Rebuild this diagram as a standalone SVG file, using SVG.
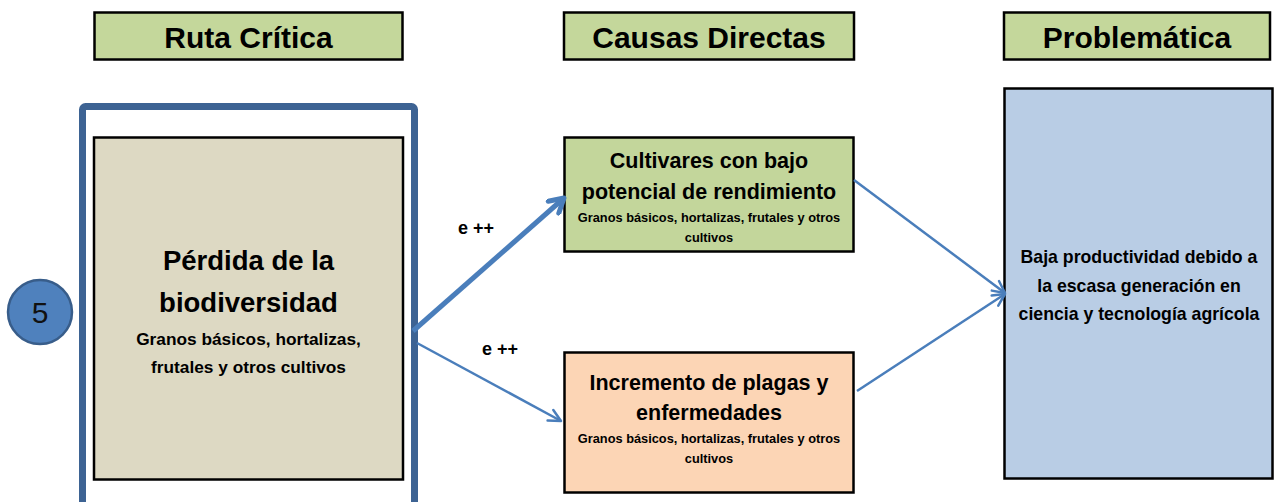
<svg xmlns="http://www.w3.org/2000/svg" width="1280" height="502" viewBox="0 0 1280 502">
<style>
.hdr{fill:#c4d79b;stroke:#000;stroke-width:2.5}
.box{stroke:#000;stroke-width:2.5}
text{font-family:"Liberation Sans",Arial,sans-serif;font-weight:bold;fill:#000;text-anchor:middle}
.h{font-size:30px}
.t1{font-size:27.5px}
.t2{font-size:21.5px}
.s1{font-size:17.3px}
.s3{font-size:17.7px}
.s2{font-size:12.8px}
.lbl{font-size:18px}
.conn{fill:none;stroke:#4a7ebb}
</style>
<defs>
<marker id="headThick" markerUnits="userSpaceOnUse" viewBox="0 0 20 20" refX="17" refY="10" markerWidth="20" markerHeight="20" orient="auto">
<path d="M3,2 L17,10 L3,18" fill="none" stroke="#4a7ebb" stroke-width="5" stroke-linecap="round" stroke-linejoin="round"/>
</marker>
<marker id="headThin" markerUnits="userSpaceOnUse" viewBox="0 0 16 16" refX="14" refY="8" markerWidth="16" markerHeight="16" orient="auto">
<path d="M2,2 L14,8 L2,14" fill="none" stroke="#4a7ebb" stroke-width="2.5" stroke-linecap="round" stroke-linejoin="round"/>
</marker>
</defs>
<rect width="1280" height="502" fill="#fff"/>

<g id="hdr-ruta">
<rect class="hdr" x="94.5" y="12.5" width="308" height="47"/>
<text class="h" x="248.5" y="48">Ruta Crítica</text>
</g>
<g id="hdr-causas">
<rect class="hdr" x="564" y="12.5" width="290" height="47"/>
<text class="h" x="709" y="48">Causas Directas</text>
</g>
<g id="hdr-problematica">
<rect class="hdr" x="1004" y="12.5" width="266" height="47"/>
<text class="h" x="1137" y="48">Problemática</text>
</g>

<g id="frame">
<rect x="82.5" y="106.5" width="332" height="430" rx="3" fill="#fff" stroke="#3d6393" stroke-width="7"/>
</g>

<g id="node-perdida">
<rect class="box" x="94" y="137.5" width="309" height="342" fill="#ddd9c3"/>
<text class="t1" x="248.5" y="270">Pérdida de la</text>
<text class="t1" x="248.5" y="312">biodiversidad</text>
<text class="s1" x="248.5" y="345">Granos básicos, hortalizas,</text>
<text class="s1" x="248.5" y="373">frutales y otros cultivos</text>
</g>

<g id="node-5">
<circle cx="40" cy="312" r="32" fill="#4f81bd" stroke="#385d8a" stroke-width="2.5"/>
<text x="40" y="323" style="font-size:30px;font-weight:normal;fill:#111">5</text>
</g>

<g id="node-cultivares">
<rect class="box" x="564.5" y="137.5" width="289" height="114" fill="#c3d69b"/>
<text class="t2" x="709" y="168">Cultivares con bajo</text>
<text class="t2" x="709" y="199">potencial de rendimiento</text>
<text class="s2" x="709" y="222">Granos básicos, hortalizas, frutales y otros</text>
<text class="s2" x="709" y="242">cultivos</text>
</g>

<g id="node-plagas">
<rect class="box" x="564.5" y="352.5" width="289" height="140" fill="#fcd5b5"/>
<text class="t2" x="709" y="390">Incremento de plagas y</text>
<text class="t2" x="709" y="420">enfermedades</text>
<text class="s2" x="709" y="443">Granos básicos, hortalizas, frutales y otros</text>
<text class="s2" x="709" y="463">cultivos</text>
</g>

<g id="node-baja">
<rect class="box" x="1004.5" y="88.5" width="268" height="390" fill="#b9cde5"/>
<text class="s3" x="1139" y="263">Baja productividad debido a</text>
<text class="s3" x="1139" y="292">la escasa generación en</text>
<text class="s3" x="1139" y="320">ciencia y tecnología agrícola</text>
</g>

<g id="connectors">
<line class="conn" x1="413" y1="331" x2="564" y2="198" stroke-width="5" marker-end="url(#headThick)"/>
<line class="conn" x1="417" y1="343" x2="561" y2="421" stroke-width="2.5" marker-end="url(#headThin)"/>
<line class="conn" x1="854" y1="180" x2="1005" y2="293" stroke-width="2.5" marker-end="url(#headThin)"/>
<line class="conn" x1="857" y1="391" x2="1005" y2="294" stroke-width="2.5" marker-end="url(#headThin)"/>
<text class="lbl" x="476" y="234">e ++</text>
<text class="lbl" x="500" y="355">e ++</text>
</g>
</svg>
